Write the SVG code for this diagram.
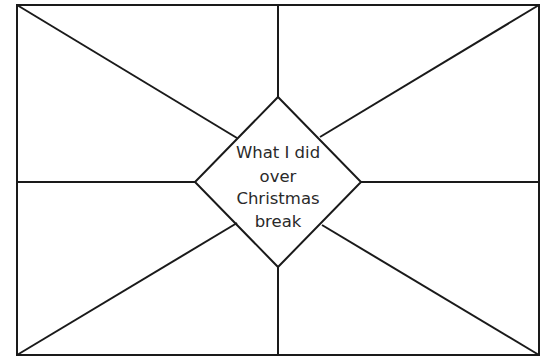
<svg xmlns="http://www.w3.org/2000/svg" width="547" height="358" viewBox="0 0 547 358">
  <style>
    .ln { stroke: #1a1a1a; stroke-width: 2; fill: none; }
    .lbl { font-family: "DejaVu Sans", "Liberation Sans", sans-serif; font-size: 16.5px; fill: #2a2a2a; text-anchor: middle; }
  </style>
  <rect width="547" height="358" fill="#ffffff"/>
  <g id="frame">
    <rect class="ln" x="17" y="5" width="522" height="350"/>
  </g>
  <g id="connectors">
    <line class="ln" x1="278" y1="5" x2="278" y2="97"/>
    <line class="ln" x1="278" y1="267" x2="278" y2="355"/>
    <line class="ln" x1="17" y1="182" x2="195" y2="182"/>
    <line class="ln" x1="361" y1="182" x2="539" y2="182"/>
    <line class="ln" x1="17" y1="5" x2="237" y2="138"/>
    <line class="ln" x1="539" y1="5" x2="320" y2="137"/>
    <line class="ln" x1="17" y1="355" x2="237" y2="223"/>
    <line class="ln" x1="539" y1="355" x2="322" y2="225"/>
  </g>
  <g id="center">
    <polygon class="ln" points="278,97 361,182 278,267 195,182" fill="#ffffff"/>
    <text class="lbl" x="278" y="158">What I did</text>
    <text class="lbl" x="278" y="182">over</text>
    <text class="lbl" x="278" y="204">Christmas</text>
    <text class="lbl" x="278" y="227">break</text>
  </g>
</svg>
